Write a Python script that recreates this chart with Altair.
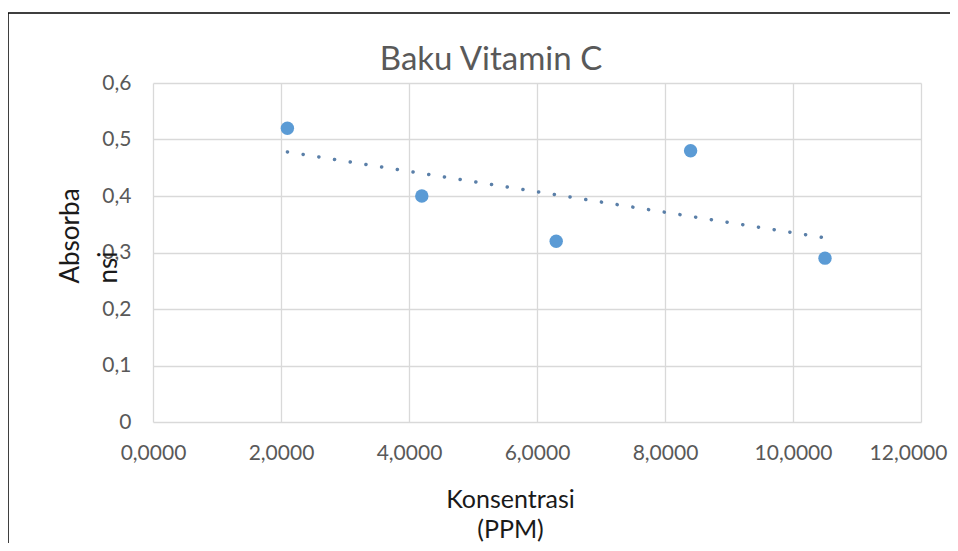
import altair as alt
import pandas as pd

konsentrasi = [2.1, 4.2, 6.3, 8.4, 10.5]
absorbansi = [0.52, 0.40, 0.32, 0.48, 0.29]
x_ticks = [0, 2, 4, 6, 8, 10, 12]
y_ticks = [0, 0.1, 0.2, 0.3, 0.4, 0.5, 0.6]
title_text = "Baku Vitamin C"
x_title = ["Konsentrasi", "(PPM)"]
y_title = ["Absorba", "nsi"]

FONT = "Lato"

df = pd.DataFrame({"x": konsentrasi, "y": absorbansi})
one = pd.DataFrame({"a": [0]})

x_enc = alt.X(
    "x:Q",
    scale=alt.Scale(domain=[0, 12], nice=False, zero=False),
    axis=alt.Axis(
        values=x_ticks,
        labelExpr="replace(format(datum.value, '.4f'), '.', ',')",
        labelFlush=False,
        labelOverlap=False,
        labelOffset={"condition": {"test": "datum.value == 12", "value": -13}, "value": 0},
        title=x_title,
        titleX=357,
        titleY=85,
        titleFontSize=25,
        titleAlign="center",
        titleBaseline="alphabetic",
        titleLineHeight=30,
        labelPadding=20,
    ),
)
y_enc = alt.Y(
    "y:Q",
    scale=alt.Scale(domain=[0, 0.6], nice=False),
    axis=alt.Axis(
        values=y_ticks,
        labelExpr="datum.value == 0 ? '0' : replace(format(datum.value, '.1f'), '.', ',')",
        labelFlush=False,
        title=y_title,
        titleX=-75,
        titleY=200,
        titleAngle=270,
        titleAlign="left",
        titleBaseline="alphabetic",
        titleLineHeight=38,
        labelPadding=22,
    ),
)

frame = alt.Chart(one).mark_rect(
    fillOpacity=0, stroke="#000000", strokeWidth=1.5
).encode(
    x=alt.value(-145), x2=alt.value(900), y=alt.value(-70), y2=alt.value(600)
)

trend = alt.Chart(df).transform_regression("x", "y").mark_line(
    color="#5a7fa8", strokeWidth=3.5, strokeDash=[0.1, 15.8], strokeCap="round"
).encode(x=x_enc, y=y_enc)

points = alt.Chart(df).mark_circle(size=180, color="#5b9bd5", opacity=1).encode(
    x=x_enc, y=y_enc
)

title = alt.Chart(one).mark_text(
    text=title_text, font=FONT, fontSize=33, color="#595959",
    align="center", baseline="alphabetic"
).encode(x=alt.value(338), y=alt.value(-13))

chart = alt.layer(frame, trend, points, title).properties(
    width=768,
    height=339,
    padding={"left": 145, "top": 75, "right": 29, "bottom": 121},
    autosize=alt.AutoSizeParams(type="none"),
).configure_view(stroke=None).configure_axis(
    grid=True,
    gridColor="#d9d9d9",
    gridWidth=1.3,
    domain=False,
    ticks=False,
    tickSize=0,
    labelFont=FONT,
    labelFontSize=21,
    labelColor="#595959",
    titleFont=FONT,
    titleFontSize=26,
    titleColor="#1a1a1a",
    titleFontWeight="normal",
)

chart.save("out.html", embed_options={"renderer": "svg", "actions": False})
